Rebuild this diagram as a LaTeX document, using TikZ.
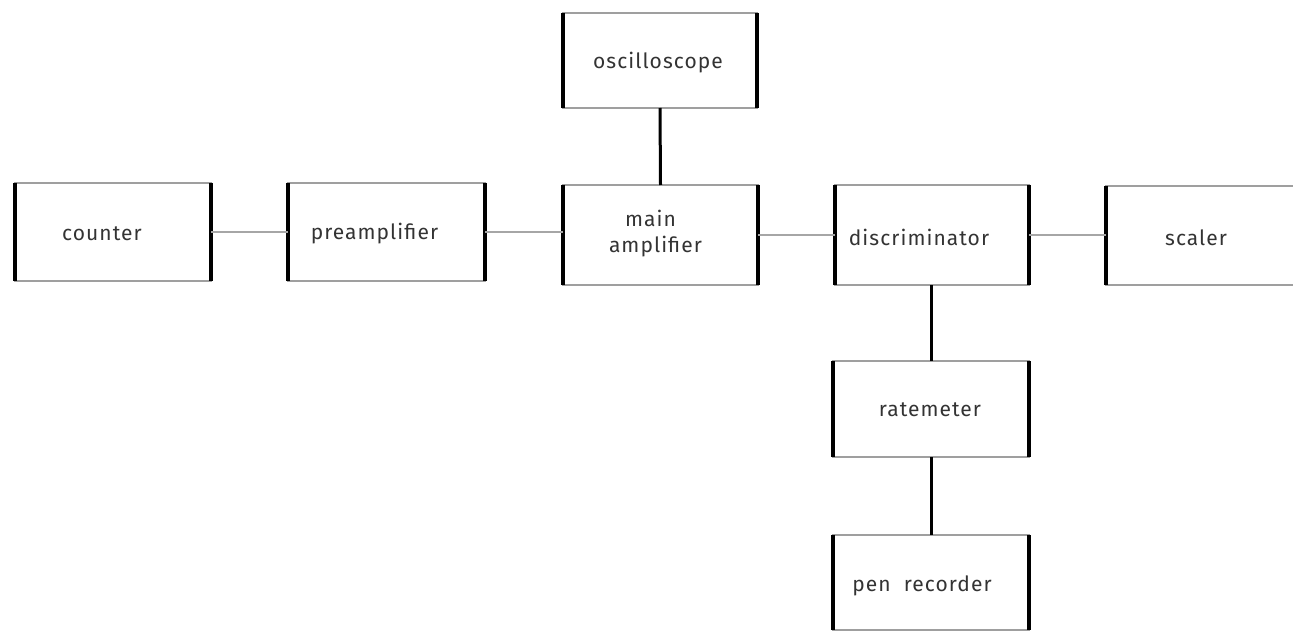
\documentclass[tikz,border=0pt]{standalone}
\usepackage{fontspec}
\setmainfont{Fira Sans}[LetterSpace=5]
\begin{document}
\begin{tikzpicture}[x=1pt,y=-1pt,
  box/.style={draw=gray!75, line width=1.6pt, inner sep=0pt, outer sep=0pt},
  side/.style={black, line width=3.2pt},
  hlink/.style={gray!70, line width=1.6pt},
  vlink/.style={black, line width=3pt},
  txt/.style={font=\fontsize{21}{26}\selectfont, text=black!80, inner sep=0pt}
]
\useasboundingbox (0,0) rectangle (1293,631);
\clip (0,0) rectangle (1293,631);
\node[box, minimum width=196pt, minimum height=98pt, label={[txt,xshift=-11pt,yshift=-2pt]center:counter}] (cnt) at (113,232) {};
\node[box, minimum width=197pt, minimum height=98pt, label={[txt,xshift=-12pt,yshift=-2pt]center:preamplifier}] (pre) at (386.5,232) {};
\node[box, minimum width=194pt, minimum height=95pt, label={[txt,xshift=-2pt,yshift=-2pt]center:oscilloscope}] (osc) at (660,60.5) {};
\node[box, minimum width=195pt, minimum height=100pt, label={[txt,align=center,xshift=-5pt,yshift=1pt]center:\hspace*{-10pt}main\\amplifier}] (amp) at (660.5,235) {};
\node[box, minimum width=194pt, minimum height=100pt, label={[txt,xshift=-13pt,yshift=-2pt]center:discriminator}] (dis) at (932,235) {};
\node[box, minimum width=194pt, minimum height=99pt, label={[txt,xshift=-7pt,yshift=-2pt]center:scaler}] (sca) at (1203,235.5) {};
\node[box, minimum width=196pt, minimum height=96pt, label={[txt,xshift=-1pt,yshift=-1pt]center:ratemeter}] (rat) at (931,409) {};
\node[box, minimum width=196pt, minimum height=95pt, label={[txt,xshift=-9pt,yshift=-3pt]center:pen\ \ recorder}] (pen) at (931,582.5) {};
\foreach \n in {cnt,pre,osc,amp,dis,sca,rat,pen}
  \draw[side] (\n.north west) -- (\n.south west) (\n.north east) -- (\n.south east);
\draw[hlink] (cnt.east) -- (pre.west);
\draw[hlink] (pre.east) -- (pre.east -| amp.west);
\draw[hlink] (amp.east) -- (dis.west);
\draw[hlink] (dis.east) -- (dis.east -| sca.west);
\draw[vlink] (osc.south) -- (amp.north);
\draw[vlink] (rat.north |- dis.south) -- (rat.north);
\draw[vlink] (rat.south) -- (pen.north);
\end{tikzpicture}
\end{document}
